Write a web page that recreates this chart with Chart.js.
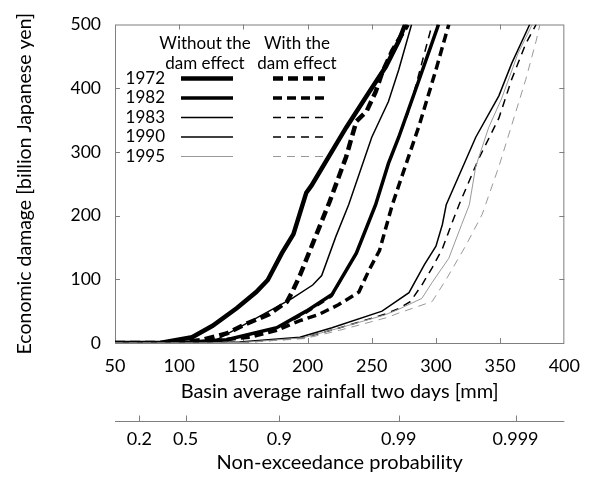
<!DOCTYPE html>
<html>
<head>
<meta charset="utf-8">
<script src="https://cdn.jsdelivr.net/npm/chart.js@4"></script>
<style>
  html, body { margin: 0; padding: 0; background: #fff; }
  canvas { display: block; }
</style>
</head>
<body>
<canvas id="chart" width="592" height="477"></canvas>
<script>
// rainfall [mm] / damage [billion yen]
const rain1972Without = [50, 85, 110, 126, 145, 160, 169, 180, 189, 199, 203, 230, 248, 261, 271, 276];
const dmg1972Without  = [0, 0, 9, 27, 55, 80, 99, 141, 171, 236, 247, 338, 394, 434, 474, 500];
const rain1972With = [50, 100, 118, 137, 152, 170, 184, 188, 194, 204, 217, 230, 238, 246, 253, 258, 266, 278];
const dmg1972With  = [0, 0, 5, 15, 30, 45, 65, 80, 106, 156, 221, 292, 348, 364, 394, 424, 459, 500];

const rain1982Without = [50, 97, 137, 176, 199, 219, 238, 253, 263, 271, 287, 302];
const dmg1982Without  = [0, 0, 5, 24, 50, 76, 141, 217, 282, 323, 414, 500];
const rain1982With = [50, 108, 155, 176, 194, 209, 224, 240, 248, 256, 266, 271, 287, 300, 310];
const dmg1982With  = [0, 0, 9, 20, 35, 45, 60, 80, 115, 145, 217, 247, 342, 429, 500];

const rain1983Without = [50, 108, 129, 170, 188, 204, 211, 222, 232, 250, 263, 271, 281];
const dmg1983Without  = [0, 0, 5, 50, 70, 91, 106, 167, 217, 323, 379, 429, 500];
const rain1983With = [50, 105, 137, 176, 199, 219, 237, 253, 263, 279, 297];
const dmg1983With  = [0, 0, 4, 22, 47, 73, 138, 215, 280, 364, 500];

const rain1990Without = [50, 116, 147, 194, 219, 258, 279, 291, 300, 305, 308, 331, 349, 359, 373];
const dmg1990Without  = [0, 0, 1.5, 9, 24, 50, 79, 123, 152, 186, 217, 323, 388, 439, 500];
const rain1990With = [50, 118, 150, 196, 222, 260, 271, 280, 289, 297, 305, 312, 318, 333, 349, 359, 370, 378];
const dmg1990With  = [0, 0, 1, 8, 22, 45, 54, 65, 91, 118, 148, 186, 217, 288, 353, 414, 470, 500];

const rain1995Without = [50, 118, 150, 196, 222, 260, 271, 289, 297, 310, 320, 326, 331, 341, 351, 364, 375];
const dmg1995Without  = [0, 0, 1, 8, 22, 44, 53, 70, 95, 133, 186, 217, 277, 338, 383, 455, 500];
const rain1995With = [50, 120, 152, 198, 225, 262, 271, 297, 308, 323, 336, 349, 359, 370, 378, 381];
const dmg1995With  = [0, 0, 1, 7, 20, 40, 47, 65, 100, 152, 202, 277, 342, 414, 474, 500];

// second axis: non-exceedance probability at the matching rainfall
const probLabels = ["0.2", "0.5", "0.9", "0.99", "0.999"];
const probRain = [69, 105, 178, 271, 362];

const years = ["1972", "1982", "1983", "1990", "1995"];

const FONT = "Lato, 'Open Sans', sans-serif";
const FRAME = "#7f7f7f";

// line look per year (legend uses the same)
const looks = {
  "1972": { width: 4.5, color: "#000", dash: [10, 5] },
  "1982": { width: 3.5, color: "#000", dash: [9, 5] },
  "1983": { width: 1.5, color: "#000", dash: [8, 6] },
  "1990": { width: 1.5, color: "#000", dash: [8, 6] },
  "1995": { width: 1, color: "#999", dash: [8, 6] },
};

function pts(xs, ys) {
  return xs.map((x, i) => ({ x: x, y: ys[i] }));
}

function serie(year, xs, ys, withDam) {
  const l = looks[year];
  return {
    label: year + (withDam ? " with" : " without"),
    data: pts(xs, ys),
    borderColor: l.color,
    borderWidth: l.width,
    borderDash: withDam ? l.dash : [],
    pointRadius: 0,
    tension: 0,
    fill: false,
  };
}

const datasets = [
  serie("1995", rain1995Without, dmg1995Without, false),
  serie("1995", rain1995With, dmg1995With, true),
  serie("1990", rain1990Without, dmg1990Without, false),
  serie("1990", rain1990With, dmg1990With, true),
  serie("1983", rain1983Without, dmg1983Without, false),
  serie("1983", rain1983With, dmg1983With, true),
  serie("1982", rain1982Without, dmg1982Without, false),
  serie("1982", rain1982With, dmg1982With, true),
  serie("1972", rain1972Without, dmg1972Without, false),
  serie("1972", rain1972With, dmg1972With, true),
];

// frame with inward ticks + probability axis line
const framePlugin = {
  id: "frame",
  beforeDatasetsDraw(chart) {
    const { ctx, chartArea: a, scales } = chart;
    const x = scales.x, y = scales.y, x2 = scales.x2;
    ctx.save();
    ctx.strokeStyle = FRAME;
    ctx.lineWidth = 1;
    ctx.strokeRect(a.left + 0.5, a.top + 0.5, a.right - a.left - 1, a.bottom - a.top);
    ctx.beginPath();
    [100, 150, 200, 250, 300, 350].forEach(v => {
      const px = Math.round(x.getPixelForValue(v)) + 0.5;
      ctx.moveTo(px, a.bottom); ctx.lineTo(px, a.bottom - 5);
      ctx.moveTo(px, a.top); ctx.lineTo(px, a.top + 5);
    });
    [100, 200, 300, 400].forEach(v => {
      const py = Math.round(y.getPixelForValue(v)) + 0.5;
      ctx.moveTo(a.left, py); ctx.lineTo(a.left + 5, py);
      ctx.moveTo(a.right, py); ctx.lineTo(a.right - 5, py);
    });
    // probability axis
    const ly = x2.top + 0.5;
    ctx.moveTo(a.left, ly); ctx.lineTo(a.right, ly);
    probRain.forEach(v => {
      const px = Math.round(x2.getPixelForValue(v)) + 0.5;
      ctx.moveTo(px, ly); ctx.lineTo(px, ly - 6);
    });
    ctx.stroke();
    ctx.restore();
  },
  afterDraw(chart) {
    // legend inside the plot
    const { ctx, chartArea: a } = chart;
    ctx.save();
    ctx.fillStyle = "#000";
    ctx.font = "17px " + FONT;
    ctx.textBaseline = "middle";
    ctx.textAlign = "center";
    const c1 = a.left + 90, c2 = a.left + 182;
    ctx.fillText("Without the", c1, a.top + 19);
    ctx.fillText("dam effect", c1, a.top + 39);
    ctx.fillText("With the", c2, a.top + 19);
    ctx.fillText("dam effect", c2, a.top + 39);
    years.forEach((yr, i) => {
      const ry = a.top + 54 + i * 19.5;
      const l = looks[yr];
      ctx.textAlign = "right";
      ctx.fillStyle = "#000";
      ctx.fillText(yr, a.left + 50, ry);
      ctx.strokeStyle = l.color;
      ctx.lineWidth = l.width;
      ctx.setLineDash([]);
      ctx.beginPath();
      ctx.moveTo(a.left + 66, ry); ctx.lineTo(a.left + 118, ry);
      ctx.stroke();
      ctx.setLineDash(l.dash);
      ctx.beginPath();
      ctx.moveTo(a.left + 158, ry); ctx.lineTo(a.left + 210, ry);
      ctx.stroke();
    });
    ctx.restore();
  },
};

const ctx = document.getElementById("chart").getContext("2d");
new Chart(ctx, {
  type: "line",
  data: { datasets: datasets },
  options: {
    responsive: false,
    animation: false,
    devicePixelRatio: 1,
    layout: { padding: { left: 0, right: 26, top: 13, bottom: 0 } },
    plugins: { legend: { display: false }, tooltip: { enabled: false } },
    scales: {
      x: {
        type: "linear",
        position: "bottom",
        weight: 0,
        min: 50,
        max: 400,
        afterFit: s => { s.height = 78; },
        grid: { display: false, drawTicks: false },
        border: { display: false },
        ticks: { stepSize: 50, padding: 12, color: "#000", font: { family: FONT, size: 18 }, maxRotation: 0 },
        title: { display: true, text: "Basin average rainfall two days [mm]", color: "#000",
                 font: { family: FONT, size: 20 }, padding: { top: 0, bottom: 17 } },
      },
      x2: {
        type: "linear",
        position: "bottom",
        weight: 1,
        min: 50,
        max: 400,
        afterFit: s => { s.height = 56; },
        afterBuildTicks: s => { s.ticks = probRain.map(v => ({ value: v })); },
        grid: { display: false, drawTicks: false },
        border: { display: false },
        ticks: {
          autoSkip: false, padding: 7, color: "#000", font: { family: FONT, size: 18 }, maxRotation: 0,
          callback: (v, i) => probLabels[i],
        },
        title: { display: true, text: "Non-exceedance probability", color: "#000",
                 font: { family: FONT, size: 20 }, padding: { top: 0, bottom: 2 } },
      },
      y: {
        type: "linear",
        min: 0,
        max: 500,
        afterFit: s => { s.width = 115; },
        grid: { display: false, drawTicks: false },
        border: { display: false },
        ticks: { stepSize: 100, padding: 14, color: "#000", font: { family: FONT, size: 17.5 } },
        title: { display: true, text: "Economic damage [billion Japanese yen]", color: "#000",
                 font: { family: FONT, size: 19.5 }, padding: { top: 13, bottom: 0 } },
      },
    },
  },
  plugins: [framePlugin],
});
</script>
</body>
</html>
